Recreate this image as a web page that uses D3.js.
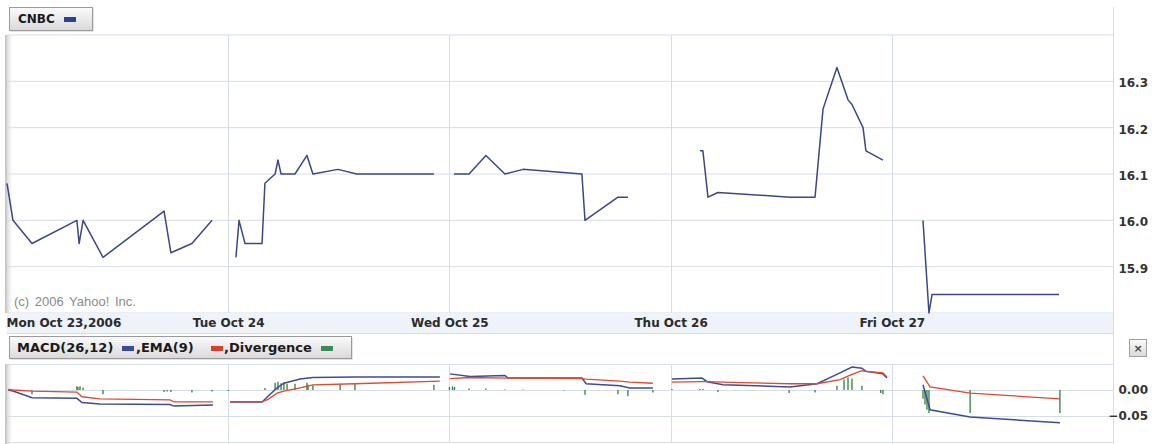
<!DOCTYPE html>
<html>
<head>
<meta charset="utf-8">
<script src="https://cdn.jsdelivr.net/npm/d3@7"></script>
<style>
  body { margin: 0; background: #fff; }
  text { font-family: 'DejaVu Sans', Verdana, sans-serif; }
</style>
</head>
<body>
<div id="chart"></div>
<script>
// day labels along the bottom of the price panel
let dayLabels = ['Mon Oct 23,2006', 'Tue Oct 24', 'Wed Oct 25', 'Thu Oct 26', 'Fri Oct 27']

// price: time in trading days since Mon open, value in $
let priceTime = [
  0.000, 0.027, 0.113, 0.316, 0.326, 0.344, 0.434, 0.710, 0.741, 0.836, 0.927,
  1.035, 1.049, 1.076, 1.153, 1.166, 1.212, 1.225, 1.239, 1.302, 1.356, 1.383, 1.496, 1.582, 1.930,
  2.021, 2.089, 2.165, 2.251, 2.333, 2.599, 2.613, 2.762, 2.807,
  3.133, 3.146, 3.169, 3.214, 3.540, 3.653, 3.689, 3.752, 3.802, 3.820, 3.870, 3.883, 3.960,
  4.141, 4.168, 4.182, 4.756
]
let priceValue = [
  16.08, 16.00, 15.95, 16.00, 15.95, 16.00, 15.92, 16.02, 15.93, 15.95, 16.00,
  15.92, 16.00, 15.95, 15.95, 16.08, 16.10, 16.13, 16.10, 16.10, 16.14, 16.10, 16.11, 16.10, 16.10,
  16.10, 16.10, 16.14, 16.10, 16.11, 16.10, 16.00, 16.05, 16.05,
  16.15, 16.15, 16.05, 16.06, 16.05, 16.05, 16.24, 16.33, 16.26, 16.25, 16.20, 16.15, 16.13,
  16.00, 15.80, 15.84, 15.84
]

// MACD(26,12) and EMA(9)
let macdTime = [
  0.005, 0.027, 0.113, 0.316, 0.339, 0.420, 0.737, 0.755, 0.931,
  1.008, 1.153, 1.180, 1.221, 1.252, 1.325, 1.383, 1.573, 1.957,
  2.003, 2.093, 2.251, 2.265, 2.599, 2.618, 2.771, 2.816, 2.920,
  3.006, 3.142, 3.165, 3.237, 3.540, 3.662, 3.766, 3.820, 3.865, 3.883, 3.960, 3.978,
  4.141, 4.173, 4.354, 4.760
]
let macdValue = [
  0.000, -0.002, -0.015, -0.016, -0.024, -0.027, -0.028, -0.031, -0.029,
  -0.023, -0.023, -0.012, 0.004, 0.013, 0.021, 0.024, 0.025, 0.025,
  0.031, 0.026, 0.028, 0.023, 0.023, 0.012, 0.008, 0.004, 0.004,
  0.021, 0.023, 0.016, 0.010, 0.006, 0.012, 0.033, 0.044, 0.042, 0.036, 0.031, 0.023,
  0.010, -0.038, -0.052, -0.063
]
let emaValue = [
  0.001, 0.000, -0.002, -0.004, -0.013, -0.017, -0.019, -0.023, -0.023,
  -0.023, -0.023, -0.018, -0.006, -0.002, 0.004, 0.010, 0.012, 0.017,
  0.022, 0.024, 0.023, 0.023, 0.022, 0.021, 0.017, 0.015, 0.013,
  0.015, 0.016, 0.016, 0.015, 0.012, 0.012, 0.020, 0.030, 0.037, 0.036, 0.033, 0.025,
  0.027, 0.006, -0.006, -0.017
]

// divergence bars
let divTime = [
  0.113, 0.316, 0.321, 0.330, 0.344, 0.434, 0.710, 0.724, 0.741, 0.836, 0.927,
  1.000, 1.166, 1.212, 1.225, 1.239, 1.252, 1.266, 1.302, 1.356, 1.361, 1.383, 1.506, 1.573, 1.930,
  2.000, 2.014, 2.023, 2.089, 2.165, 2.251, 2.333, 2.517, 2.613, 2.762, 2.807, 2.920,
  3.006, 3.133, 3.146, 3.214, 3.536, 3.653, 3.752, 3.784, 3.802, 3.820, 3.865, 3.950, 3.960,
  4.141, 4.150, 4.159, 4.168, 4.354, 4.760
]
let divValue = [
  -0.008, 0.007, 0.006, 0.007, 0.005, -0.008, -0.004, -0.003, -0.004, -0.005, -0.003,
  -0.002, 0.004, 0.014, 0.016, 0.013, 0.015, 0.012, 0.012, 0.014, 0.010, 0.009, 0.012, 0.012, 0.010,
  0.006, 0.007, 0.006, 0.003, 0.003, 0.001, 0.001, -0.001, -0.009, -0.008, -0.012, -0.005,
  0.002, 0.002, 0.002, -0.004, -0.006, -0.005, 0.008, 0.020, 0.024, 0.022, 0.008, -0.006, -0.008,
  -0.017, -0.028, -0.038, -0.044, -0.044, -0.044
]

let priceTicks = [15.9, 16.0, 16.1, 16.2, 16.3]
let priceGrid = [15.8, 15.9, 16.0, 16.1, 16.2, 16.3, 16.4]
let macdTicks = [0.0, -0.05]
let macdGrid = [0.05, 0.0, -0.05, -0.1]

let width = 1158
let height = 444
let left = 7
let right = 1113
let gridColor = '#d6dde9'

let svg = d3
  .select('#chart')
  .append('svg')
  .attr('width', width)
  .attr('height', height)

let defs = svg.append('defs')
let shade = defs.append('linearGradient').attr('id', 'shade')
shade.append('stop').attr('offset', '0%').attr('stop-color', '#bdbdbd')
shade.append('stop').attr('offset', '100%').attr('stop-color', '#ffffff').attr('stop-opacity', 0)
let btn = defs.append('linearGradient').attr('id', 'btn').attr('x2', 0).attr('y2', 1)
btn.append('stop').attr('offset', '0%').attr('stop-color', '#fbfbfb')
btn.append('stop').attr('offset', '100%').attr('stop-color', '#d9d9d9')

let x = d3.scaleLinear().domain([0, 5]).range([left, right])
let y = d3.scaleLinear().domain([15.8, 16.4]).range([313, 35])
let ym = d3.scaleLinear().domain([-0.1, 0.05]).range([442, 364])

// grids, main panel
svg.append('g')
  .selectAll('line')
  .data(priceGrid)
  .enter()
  .append('line')
  .attr('x1', left)
  .attr('x2', right)
  .attr('y1', d => y(d))
  .attr('y2', d => y(d))
  .attr('stroke', gridColor)

// x label band
svg.append('rect')
  .attr('x', left)
  .attr('y', 313)
  .attr('width', right - left)
  .attr('height', 20)
  .attr('fill', '#eef2f9')
svg.append('line')
  .attr('x1', left).attr('x2', right)
  .attr('y1', 333.5).attr('y2', 333.5)
  .attr('stroke', gridColor)

// grids, macd panel
svg.append('g')
  .selectAll('line')
  .data(macdGrid)
  .enter()
  .append('line')
  .attr('x1', left)
  .attr('x2', right)
  .attr('y1', d => Math.round(ym(d)) + 0.5)
  .attr('y2', d => Math.round(ym(d)) + 0.5)
  .attr('stroke', gridColor)

// day separators
let dayLines = svg.append('g')
dayLines.selectAll('.vmain')
  .data([1, 2, 3, 4])
  .enter()
  .append('line')
  .attr('x1', d => Math.round(x(d)) + 0.5)
  .attr('x2', d => Math.round(x(d)) + 0.5)
  .attr('y1', 35)
  .attr('y2', 313)
  .attr('stroke', gridColor)
dayLines.selectAll('.vmacd')
  .data([1, 2, 3, 4])
  .enter()
  .append('line')
  .attr('x1', d => Math.round(x(d)) + 0.5)
  .attr('x2', d => Math.round(x(d)) + 0.5)
  .attr('y1', 364)
  .attr('y2', 442)
  .attr('stroke', gridColor)

// right frame line
svg.append('line')
  .attr('x1', right + 0.5).attr('x2', right + 0.5)
  .attr('y1', 7).attr('y2', height)
  .attr('stroke', gridColor)

// left shadow strip
svg.append('rect').attr('x', 5).attr('y', 35).attr('width', 9).attr('height', 278).attr('fill', 'url(#shade)')
svg.append('rect').attr('x', 5).attr('y', 364).attr('width', 9).attr('height', 80).attr('fill', 'url(#shade)')

// copyright
svg.append('text')
  .attr('x', 14)
  .attr('y', 306)
  .attr('fill', '#8a8a8a')
  .style('font-family', "'Liberation Sans', Arial, sans-serif")
  .style('font-size', '13px')
  .style('word-spacing', '2px')
  .text('(c) 2006 Yahoo! Inc.')

// x axis
let xAxis = d3.axisBottom(x)
  .tickValues([0, 1, 2, 3, 4])
  .tickFormat((d, i) => dayLabels[i])
  .tickSize(0)
  .tickPadding(0)
let xg = svg.append('g').attr('transform', 'translate(0,318)').call(xAxis)
xg.select('.domain').remove()
xg.selectAll('text')
  .attr('dy', '0.71em')
  .attr('fill', '#2b2b2b')
  .style('font-size', '12px')
  .style('font-weight', 'bold')
  .style('font-family', "'DejaVu Sans', Verdana, sans-serif")
xg.selectAll('.tick')
  .filter(d => d === 0)
  .select('text')
  .attr('text-anchor', 'start')
  .attr('x', -1)

// right y axis, price
let yAxis = d3.axisRight(y)
  .tickValues(priceTicks)
  .tickFormat(d3.format('.1f'))
  .tickSize(0)
let yg = svg.append('g').attr('transform', `translate(${right + 3},1.5)`).call(yAxis)
yg.select('.domain').remove()

// right y axis, macd
let ymAxis = d3.axisRight(ym)
  .tickValues(macdTicks)
  .tickFormat(d3.format('.2f'))
  .tickSize(0)
let ymg = svg.append('g').attr('transform', `translate(${right + 3},0)`).call(ymAxis)
ymg.select('.domain').remove()

svg.selectAll('g.tick text')
  .filter(function () { return this.parentNode.parentNode !== xg.node() })
  .attr('x', 32)
  .attr('text-anchor', 'end')
  .attr('fill', '#333')
  .style('font-size', '12px')
  .style('font-weight', 'bold')
  .style('font-family', "'DejaVu Sans', Verdana, sans-serif")

// price line, one piece per trading day
let priceData = priceTime.map((t, i) => ({ t: t, v: priceValue[i] }))
let priceDays = d3.groups(priceData, d => Math.floor(d.t))
let priceLine = d3.line().x(d => x(d.t)).y(d => y(d.v))
svg.append('g')
  .selectAll('path')
  .data(priceDays)
  .enter()
  .append('path')
  .attr('d', d => priceLine(d[1]))
  .attr('fill', 'none')
  .attr('stroke', '#3c4785')
  .attr('stroke-width', 1.5)
  .attr('stroke-linejoin', 'round')

// divergence bars
svg.append('g')
  .selectAll('line')
  .data(divTime)
  .enter()
  .append('line')
  .attr('x1', d => x(d))
  .attr('x2', d => x(d))
  .attr('y1', ym(0))
  .attr('y2', (d, i) => ym(divValue[i]))
  .attr('stroke', '#2f7f3c')
  .attr('stroke-width', 1.3)

// macd + ema lines
let macdData = macdTime.map((t, i) => ({ t: t, m: macdValue[i], e: emaValue[i] }))
let macdDays = d3.groups(macdData, d => Math.floor(d.t))
let emaLine = d3.line().x(d => x(d.t)).y(d => ym(d.e))
let macdLine = d3.line().x(d => x(d.t)).y(d => ym(d.m))
svg.append('g')
  .selectAll('path')
  .data(macdDays)
  .enter()
  .append('path')
  .attr('d', d => macdLine(d[1]))
  .attr('fill', 'none')
  .attr('stroke', '#3d4b99')
  .attr('stroke-width', 1.5)
svg.append('g')
  .selectAll('path')
  .data(macdDays)
  .enter()
  .append('path')
  .attr('d', d => emaLine(d[1]))
  .attr('fill', 'none')
  .attr('stroke', '#e4472c')
  .attr('stroke-width', 1.3)

// legend boxes
function legendBox(x0, y0, w, h) {
  svg.append('rect')
    .attr('x', x0 + 1.5).attr('y', y0 + 1.5)
    .attr('width', w).attr('height', h)
    .attr('fill', '#c8c8c8')
  svg.append('rect')
    .attr('x', x0 + 0.5).attr('y', y0 + 0.5)
    .attr('width', w).attr('height', h)
    .attr('fill', 'url(#btn)')
    .attr('stroke', '#9a9a9a')
}
function legendText(tx, ty, s, size) {
  svg.append('text')
    .attr('x', tx).attr('y', ty)
    .attr('fill', '#1a1a1a')
    .style('font-size', size)
    .style('font-weight', 'bold')
    .text(s)
}
function swatch(sx, sy, c) {
  svg.append('rect').attr('x', sx).attr('y', sy).attr('width', 12).attr('height', 5).attr('fill', c)
}

legendBox(9, 7, 83, 23)
legendText(18, 23, 'CNBC', '12px')
swatch(64, 17, '#2c3f91')

legendBox(9, 336, 342, 22)
legendText(17, 352, 'MACD(26,12)', '13px')
swatch(122, 346, '#3a4a9c')
legendText(136, 352, ',EMA(9)', '13px')
swatch(211, 346, '#d9402a')
legendText(224, 352, ',Divergence', '13px')
swatch(321, 346, '#3d8a55')

// close button
svg.append('rect')
  .attr('x', 1129.5).attr('y', 339.5)
  .attr('width', 17).attr('height', 17)
  .attr('fill', 'url(#btn)')
  .attr('stroke', '#a0a0a0')
svg.append('text')
  .attr('x', 1138).attr('y', 352)
  .attr('text-anchor', 'middle')
  .attr('fill', '#444')
  .style('font-size', '11px')
  .style('font-weight', 'bold')
  .text('×')
</script>
</body>
</html>
